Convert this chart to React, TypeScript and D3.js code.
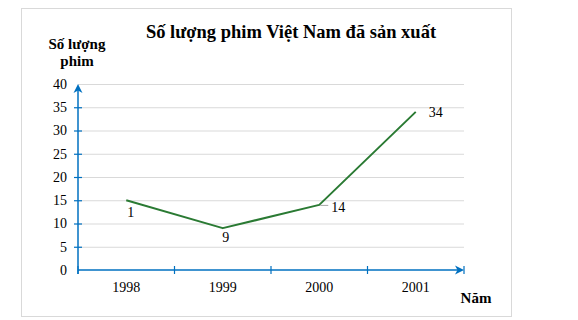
import React from "react";
import * as d3 from "d3";

const years = ["1998", "1999", "2000", "2001"];
const films = [15, 9, 14, 34];
const dataLabels = ["1", "9", "14", "34"];
const labelPlacement = ["below", "below", "right", "right"];
const yTicks = [0, 5, 10, 15, 20, 25, 30, 35, 40];
const title = "Số lượng phim Việt Nam đã sản xuất";
const yTitle = ["Số lượng", "phim"];
const xTitle = "Năm";

const W = 578;
const H = 320;
const L = 78, R = 464, T = 84, B = 270;
const AXIS = "#0070c0";
const GRID = "#d9d9d9";
const LINE = "#2a7a33";
const FONT = "'Liberation Serif', 'Times New Roman', serif";

export default function App() {
  const x = d3.scaleBand<string>().domain(years).range([L, R]);
  const y = d3.scaleLinear().domain([0, 40]).range([B, T]);
  const cx = (d: string) => (x(d) as number) + x.bandwidth() / 2;
  const line = d3
    .line<number>()
    .x((_, i) => cx(years[i]))
    .y((v) => y(v));
  const boundaries = [...years.map((d) => x(d) as number), R];

  return (
    <svg
      width={W}
      height={H}
      style={{ position: "absolute", left: 0, top: 0, fontFamily: FONT }}
    >
      <rect x={0} y={0} width={W} height={H} fill="#fff" />
      <rect x={21.5} y={8.5} width={490} height={308} fill="#fff" stroke={GRID} strokeWidth={1} />
      <text x={291} y={38} textAnchor="middle" fontSize={18.5} fontWeight="bold" fill="#000">
        {title}
      </text>
      {yTitle.map((t, i) => (
        <text key={t} x={77} y={49 + i * 17} textAnchor="middle" fontSize={15} fontWeight="bold" fill="#000">
          {t}
        </text>
      ))}
      {yTicks.map((t) => (
        <g key={t}>
          {t > 0 && <line x1={L} x2={R} y1={y(t) + 0.5} y2={y(t) + 0.5} stroke={GRID} strokeWidth={1} />}
          <text x={67} y={y(t)} dy="0.35em" textAnchor="end" fontSize={14} fill="#000">
            {t}
          </text>
          {t < 40 && t > 0 && (
            <line x1={74} x2={82} y1={y(t) + 0.5} y2={y(t) + 0.5} stroke={AXIS} strokeWidth={1.2} />
          )}
        </g>
      ))}
      {/* y axis */}
      <line x1={L} x2={L} y1={B + 4} y2={T + 2} stroke={AXIS} strokeWidth={1.5} />
      <path d={`M${L},${T} L${L + 4.5},${T + 9} L${L},${T + 6.5} L${L - 4.5},${T + 9} Z`} fill={AXIS} />
      {/* x axis */}
      <line x1={L} x2={R - 2} y1={B} y2={B} stroke={AXIS} strokeWidth={1.5} />
      <path d={`M${R},${B} L${R - 9},${B - 4.5} L${R - 6.5},${B} L${R - 9},${B + 4.5} Z`} fill={AXIS} />
      {boundaries.map((b, i) => (
        <line key={i} x1={b} x2={b} y1={B - 4} y2={B + 4} stroke={AXIS} strokeWidth={1.2} />
      ))}
      {years.map((d) => (
        <text key={d} x={cx(d)} y={B + 17} dy="0.35em" textAnchor="middle" fontSize={14} fill="#000">
          {d}
        </text>
      ))}
      <text x={476} y={298} dy="0.35em" textAnchor="middle" fontSize={15} fontWeight="bold" fill="#000">
        {xTitle}
      </text>
      <path d={line(films) || ""} fill="none" stroke={LINE} strokeWidth={2} strokeLinejoin="round" />
      {films.map((v, i) => {
        const px = cx(years[i]);
        const py = y(v);
        if (labelPlacement[i] === "below") {
          return (
            <text key={i} x={px + (i === 0 ? 4.5 : 3)} y={py + (i === 0 ? 12 : 8.5)} dy="0.35em" textAnchor="middle" fontSize={14} fill="#000">
              {dataLabels[i]}
            </text>
          );
        }
        return (
          <g key={i}>
            {i === 2 && <line x1={px + 1} x2={px + 9} y1={py + 0.5} y2={py + 0.5} stroke="#a6a6a6" strokeWidth={1} />}
            <text x={px + (i === 2 ? 12 : 13)} y={py + (i === 2 ? 2 : 0)} dy="0.35em" textAnchor="start" fontSize={14} fill="#000">
              {dataLabels[i]}
            </text>
          </g>
        );
      })}
    </svg>
  );
}
